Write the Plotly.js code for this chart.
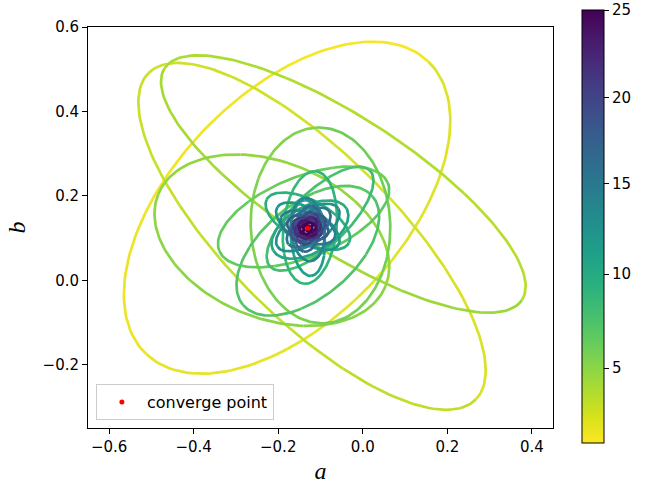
<!DOCTYPE html>
<html>
<head>
<meta charset="utf-8">
<script src="https://cdn.plot.ly/plotly-3.0.1.min.js"></script>
<style>html,body{margin:0;padding:0;background:#fff;}#chart{width:660px;height:485px;}</style>
</head>
<body>
<div id="chart"></div>
<script>
// ---- data ----
// each loop of the trajectory: colour value, centre (a,b), semi-axes, tilt (deg)
var loopT   = [1.2, 2.2, 3.4, 4.6, 5.3, 6.2, 6.9, 7.6, 8.4, 9.2, 10.0, 10.8, 11.6, 12.4, 13.2, 14.0, 15.0, 16.0, 17.0, 18.0, 19.0, 20.0, 21.0, 22.0, 23.0, 24.0, 24.6, 25.0];
var loopCX  = [-0.179, -0.120, -0.046, -0.215, -0.100, -0.140, -0.130, -0.101, -0.125, -0.130, -0.125, -0.130, -0.130, -0.130, -0.130, -0.130, -0.128, -0.130, -0.130, -0.129, -0.130, -0.131, -0.130, -0.129, -0.130, -0.130, -0.130, -0.130];
var loopCY  = [0.172, 0.104, 0.228, 0.095, 0.130, 0.150, 0.070, 0.146, 0.125, 0.140, 0.120, 0.100, 0.128, 0.125, 0.120, 0.125, 0.125, 0.122, 0.125, 0.124, 0.123, 0.124, 0.123, 0.124, 0.123, 0.123, 0.123, 0.123];
var loopA   = [0.481, 0.547, 0.504, 0.290, 0.232, 0.215, 0.200, 0.164, 0.134, 0.110, 0.100, 0.090, 0.085, 0.085, 0.075, 0.068, 0.062, 0.055, 0.050, 0.045, 0.040, 0.036, 0.032, 0.028, 0.024, 0.020, 0.015, 0.010];
var loopB   = [0.269, 0.196, 0.158, 0.185, 0.165, 0.095, 0.110, 0.065, 0.063, 0.050, 0.055, 0.040, 0.040, 0.040, 0.040, 0.035, 0.032, 0.030, 0.028, 0.026, 0.024, 0.022, 0.020, 0.018, 0.016, 0.013, 0.010, 0.007];
var loopAng = [46, -45, -33, -22, 92, 22, 40, 44, 84, -28, 30, 95, -32, 32, 95, -20, 40, 80, -15, 30, 70, -20, 20, 60, -30, 20, 60, 0];

var convergeA = [-0.130];
var convergeB = [0.123];

var xTickVals = [-0.6, -0.4, -0.2, 0.0, 0.2, 0.4];
var xTickText = ['\u22120.6', '\u22120.4', '\u22120.2', '0.0', '0.2', '0.4'];
var yTickVals = [-0.2, 0.0, 0.2, 0.4, 0.6];
var yTickText = ['\u22120.2', '0.0', '0.2', '0.4', '0.6'];

// colour bar: tick values and their relative positions
var cbValues = [1, 5, 10, 15, 20, 25];
var cbFrac   = [0, 0.1731, 0.3907, 0.600, 0.7976, 1.0];
var cbLabels = ['5', '10', '15', '20', '25'];

// ---- helpers ----
var viridis = ['#440154','#482878','#3e4989','#31688e','#26828e','#1f9e89','#35b779','#6ece58','#b5de2b','#fde725'];
function hex2rgb(h){return [parseInt(h.substr(1,2),16),parseInt(h.substr(3,2),16),parseInt(h.substr(5,2),16)];}
function norm(t){
  if (t <= cbValues[0]) return 0;
  for (var i = 1; i < cbValues.length; i++) {
    if (t <= cbValues[i]) {
      var f = (t - cbValues[i-1]) / (cbValues[i] - cbValues[i-1]);
      return cbFrac[i-1] + f * (cbFrac[i] - cbFrac[i-1]);
    }
  }
  return 1;
}
function colorOf(t){
  var u = (1 - norm(t)) * (viridis.length - 1);
  var i = Math.min(Math.floor(u), viridis.length - 2);
  var f = u - i;
  var c0 = hex2rgb(viridis[i]), c1 = hex2rgb(viridis[i+1]);
  var r = Math.round(c0[0] + f*(c1[0]-c0[0]));
  var g = Math.round(c0[1] + f*(c1[1]-c0[1]));
  var b = Math.round(c0[2] + f*(c1[2]-c0[2]));
  return 'rgb(' + r + ',' + g + ',' + b + ')';
}

var traces = [];
var N = 180, SEG = 6;
for (var k = 0; k < loopT.length; k++) {
  var th = loopAng[k] * Math.PI / 180;
  var tNext = (k + 1 < loopT.length) ? loopT[k+1] : loopT[k];
  for (var sgi = 0; sgi < SEG; sgi++) {
    var xs = [], ys = [];
    var j0 = sgi * N / SEG, j1 = (sgi + 1) * N / SEG;
    for (var j = j0; j <= j1; j++) {
      var s = 2 * Math.PI * j / N;
      var u = loopA[k] * Math.cos(s), v = loopB[k] * Math.sin(s);
      xs.push(loopCX[k] + u * Math.cos(th) - v * Math.sin(th));
      ys.push(loopCY[k] + u * Math.sin(th) + v * Math.cos(th));
    }
    var tc = loopT[k] + (tNext - loopT[k]) * (sgi + 0.5) / SEG;
    traces.push({
      type: 'scatter', mode: 'lines', x: xs, y: ys,
      line: {color: colorOf(tc), width: 2.7},
      showlegend: false, hoverinfo: 'skip'
    });
  }
}

// colour bar carrier
traces.push({
  type: 'scatter', mode: 'markers', x: convergeA, y: convergeB,
  marker: {
    size: 1, opacity: 0, color: [0.5], cmin: 0, cmax: 1,
    colorscale: 'Viridis', reversescale: true, showscale: true,
    colorbar: {
      x: 1.0617, xanchor: 'left', xref: 'paper',
      y: 0.502, yanchor: 'middle', yref: 'paper',
      thickness: 22, thicknessmode: 'pixels',
      len: 433, lenmode: 'pixels',
      outlinewidth: 1, outlinecolor: '#000',
      tickvals: cbFrac.slice(1), ticktext: cbLabels,
      ticks: 'outside', ticklen: 5, tickwidth: 1, tickcolor: '#000',
      tickfont: {family: 'DejaVu Sans', size: 15, color: '#000'},
      xpad: 0, ypad: 0
    }
  },
  showlegend: false, hoverinfo: 'skip'
});

// converge point
traces.push({
  type: 'scatter', mode: 'markers', x: convergeA, y: convergeB,
  name: 'converge point',
  marker: {color: 'red', size: 5}
});

var layout = {
  width: 660, height: 485,
  margin: {l: 88, r: 107, t: 27, b: 57},
  paper_bgcolor: '#fff', plot_bgcolor: '#fff',
  font: {family: 'DejaVu Sans', size: 15, color: '#000'},
  xaxis: {
    range: [-0.65, 0.45], tickvals: xTickVals, ticktext: xTickText,
    ticks: 'outside', ticklen: 5, tickwidth: 1, tickcolor: '#000',
    showline: true, linecolor: '#000', linewidth: 1, mirror: true,
    showgrid: false, zeroline: false,
    tickfont: {family: 'DejaVu Sans', size: 15, color: '#000'},
    title: {text: '<i>a</i>', font: {family: 'Liberation Serif', size: 24, color: '#000'}, standoff: 7}
  },
  yaxis: {
    range: [-0.35, 0.6], tickvals: yTickVals, ticktext: yTickText,
    ticks: 'outside', ticklen: 5, tickwidth: 1, tickcolor: '#000',
    showline: true, linecolor: '#000', linewidth: 1, mirror: true,
    showgrid: false, zeroline: false,
    tickfont: {family: 'DejaVu Sans', size: 15, color: '#000'},
    title: {text: '<i>b</i>', font: {family: 'Liberation Serif', size: 24, color: '#000'}, standoff: 10}
  },
  legend: {
    x: 0.017, y: 0.02, xanchor: 'left', yanchor: 'bottom',
    bgcolor: 'rgba(255,255,255,0.8)', bordercolor: '#cccccc', borderwidth: 1,
    itemwidth: 40,
    font: {family: 'DejaVu Sans', size: 16, color: '#000'}
  },
  showlegend: true
};

Plotly.newPlot('chart', traces, layout, {staticPlot: true, displayModeBar: false});
</script>
</body>
</html>
